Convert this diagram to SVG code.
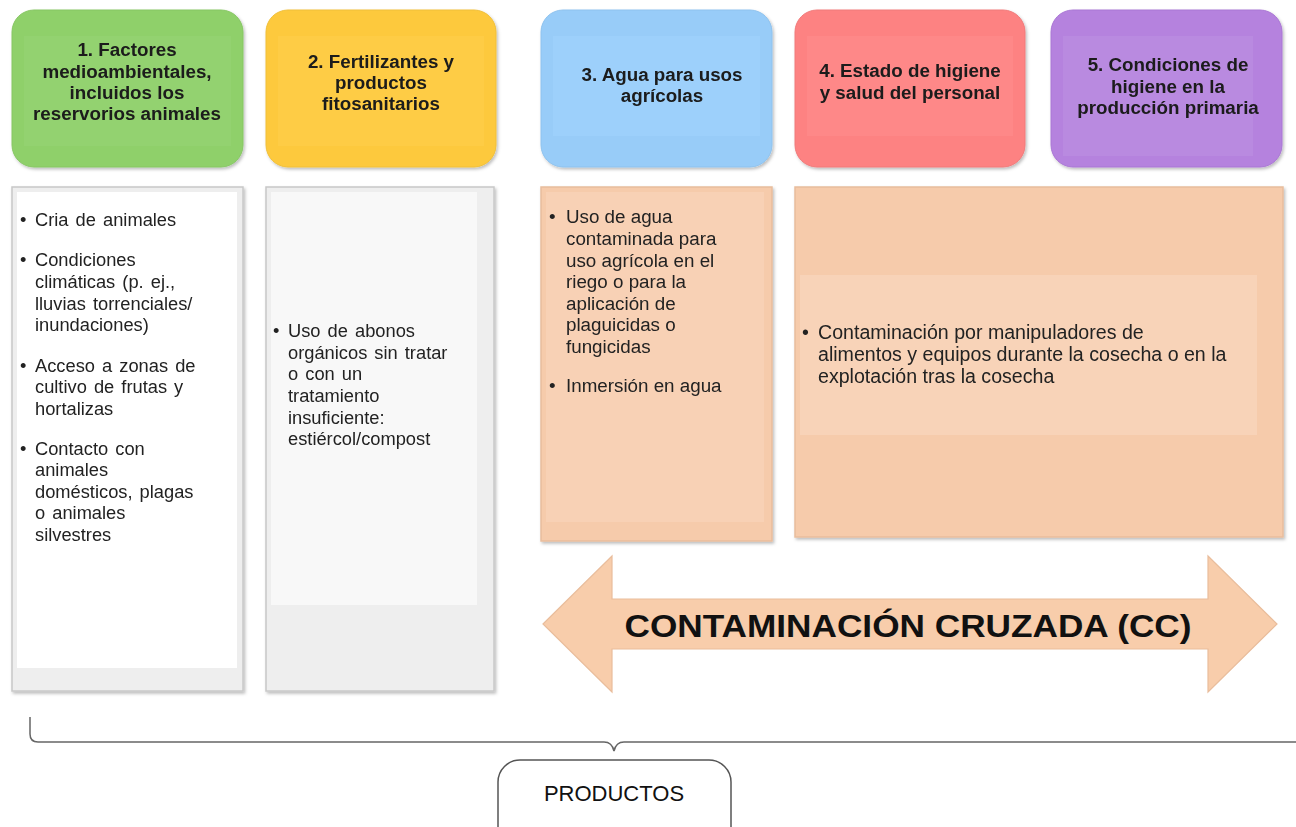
<svg xmlns="http://www.w3.org/2000/svg" width="1296" height="827" viewBox="0 0 1296 827">
<defs>
<style>
.hd{font-family:"Liberation Sans",Arial,sans-serif;font-weight:bold;font-size:18.8px;fill:#1a1a1a;text-anchor:middle}
.bd{font-family:"Liberation Sans",Arial,sans-serif;font-size:18.3px;word-spacing:2px;fill:#222}
.bdn{font-family:"Liberation Sans",Arial,sans-serif;font-size:18.8px;fill:#222}
.card{stroke:#c8c8c8;stroke-width:1.5}
.conn{fill:none;stroke:#666;stroke-width:1.5}
</style>
<filter id="sh" x="-5%" y="-5%" width="115%" height="115%">
<feDropShadow dx="1.5" dy="2" stdDeviation="1.5" flood-color="#000" flood-opacity="0.25"/>
</filter>
</defs>
<rect width="1296" height="827" fill="#ffffff"/>

<g id="h1" filter="url(#sh)">
<rect x="12" y="10" width="231" height="157" rx="22" fill="#8fd06b" stroke="#86c663"/>
<rect x="24" y="36" width="207" height="110" fill="#93d270"/>
<text class="hd"><tspan x="127" y="56">1. Factores</tspan><tspan x="127" y="78">medioambientales,</tspan><tspan x="127" y="99">incluidos los</tspan><tspan x="127" y="120">reservorios animales</tspan></text>
</g>
<g id="h2" filter="url(#sh)">
<rect x="266" y="10" width="230" height="157" rx="22" fill="#fdc93c" stroke="#f0bf38"/>
<rect x="278" y="36" width="206" height="110" fill="#fecc44"/>
<text class="hd"><tspan x="381" y="68">2. Fertilizantes y</tspan><tspan x="381" y="89">productos</tspan><tspan x="381" y="110">fitosanitarios</tspan></text>
</g>
<g id="h3" filter="url(#sh)">
<rect x="541" y="10" width="231" height="157" rx="22" fill="#98ccf8" stroke="#8ec2ee"/>
<rect x="553" y="36" width="207" height="100" fill="#9dd0fb"/>
<text class="hd"><tspan x="662" y="81">3. Agua para usos</tspan><tspan x="662" y="102">agrícolas</tspan></text>
</g>
<g id="h4" filter="url(#sh)">
<rect x="795" y="10" width="230" height="157" rx="22" fill="#fd8282" stroke="#f07a7a"/>
<rect x="807" y="36" width="206" height="100" fill="#fe8888"/>
<text class="hd"><tspan x="910" y="77">4. Estado de higiene</tspan><tspan x="910" y="99">y salud del personal</tspan></text>
</g>
<g id="h5" filter="url(#sh)">
<rect x="1051" y="10" width="231" height="157" rx="22" fill="#b582de" stroke="#a976d4"/>
<rect x="1063" y="36" width="190" height="120" fill="#b98ae0"/>
<text class="hd"><tspan x="1168" y="71">5. Condiciones de</tspan><tspan x="1168" y="93">higiene en la</tspan><tspan x="1168" y="114">producción primaria</tspan></text>
</g>

<g id="c1" filter="url(#sh)">
<rect x="12" y="187" width="231" height="504" fill="#eeeeee" class="card"/>
<rect x="17" y="192" width="220" height="476" fill="#ffffff"/>
<text class="bd">
<tspan x="20" y="226">•</tspan><tspan x="35" y="226">Cria de animales</tspan>
<tspan x="20" y="266">•</tspan><tspan x="35" y="266">Condiciones</tspan>
<tspan x="35" y="288">climáticas (p. ej.,</tspan>
<tspan x="35" y="310">lluvias torrenciales/</tspan>
<tspan x="35" y="331">inundaciones)</tspan>
<tspan x="20" y="372">•</tspan><tspan x="35" y="372">Acceso a zonas de</tspan>
<tspan x="35" y="393">cultivo de frutas y</tspan>
<tspan x="35" y="415">hortalizas</tspan>
<tspan x="20" y="455">•</tspan><tspan x="35" y="455">Contacto con</tspan>
<tspan x="35" y="476">animales</tspan>
<tspan x="35" y="498">domésticos, plagas</tspan>
<tspan x="35" y="519">o animales</tspan>
<tspan x="35" y="541">silvestres</tspan>
</text>
</g>
<g id="c2" filter="url(#sh)">
<rect x="266" y="187" width="228" height="504" fill="#eeeeee" class="card"/>
<rect x="271" y="192" width="206" height="413" fill="#f8f8f8"/>
<text class="bd">
<tspan x="273" y="337">•</tspan><tspan x="288" y="337">Uso de abonos</tspan>
<tspan x="288" y="359">orgánicos sin tratar</tspan>
<tspan x="288" y="380">o con un</tspan>
<tspan x="288" y="402">tratamiento</tspan>
<tspan x="288" y="424">insuficiente:</tspan>
<tspan x="288" y="445">estiércol/compost</tspan>
</text>
</g>
<g id="c3" filter="url(#sh)">
<rect x="541" y="187" width="231" height="354" fill="#f6cbab" stroke="#e8bd9d" stroke-width="1.5"/>
<rect x="546" y="192" width="218" height="330" fill="#f8d1b5"/>
<text class="bdn">
<tspan x="549" y="223">•</tspan><tspan x="566" y="223">Uso de agua</tspan>
<tspan x="566" y="245">contaminada para</tspan>
<tspan x="566" y="267">uso agrícola en el</tspan>
<tspan x="566" y="288">riego o para la</tspan>
<tspan x="566" y="310">aplicación de</tspan>
<tspan x="566" y="331">plaguicidas o</tspan>
<tspan x="566" y="353">fungicidas</tspan>
<tspan x="549" y="392">•</tspan><tspan x="566" y="392">Inmersión en agua</tspan>
</text>
</g>
<g id="c4" filter="url(#sh)">
<rect x="795" y="187" width="488" height="350" fill="#f6cbab" stroke="#e8bd9d" stroke-width="1.5"/>
<rect x="800" y="275" width="457" height="160" fill="#f8d3b8"/>
<text class="bdn" style="font-size:19.6px">
<tspan x="802" y="339">•</tspan><tspan x="818" y="339">Contaminación por manipuladores de</tspan>
<tspan x="818" y="361">alimentos y equipos durante la cosecha o en la</tspan>
<tspan x="818" y="383">explotación tras la cosecha</tspan>
</text>
</g>

<g id="arrow">
<polygon points="543,624 612,556 612,599 1208,599 1208,556 1277,624 1208,692 1208,649 612,649 612,692" fill="#f8cdab" stroke="#e9bd9c" stroke-width="1.2"/>
<text x="908" y="637" font-family="Liberation Sans, Arial, sans-serif" font-weight="bold" font-size="31" fill="#111" text-anchor="middle" textLength="567" lengthAdjust="spacingAndGlyphs">CONTAMINACIÓN CRUZADA (CC)</text>
</g>

<g id="connectors">
<path class="conn" d="M30,717 L30,734 Q30,742 38,742 L604,742 Q612,742 614,751 Q616,742 624,742 L1296,742"/>
</g>

<g id="productos">
<rect x="498" y="760" width="233" height="90" rx="22" fill="#ffffff" stroke="#555" stroke-width="1.5"/>
<text x="614" y="801" font-family="Liberation Sans, Arial, sans-serif" font-size="22" fill="#111" text-anchor="middle">PRODUCTOS</text>
</g>
</svg>
